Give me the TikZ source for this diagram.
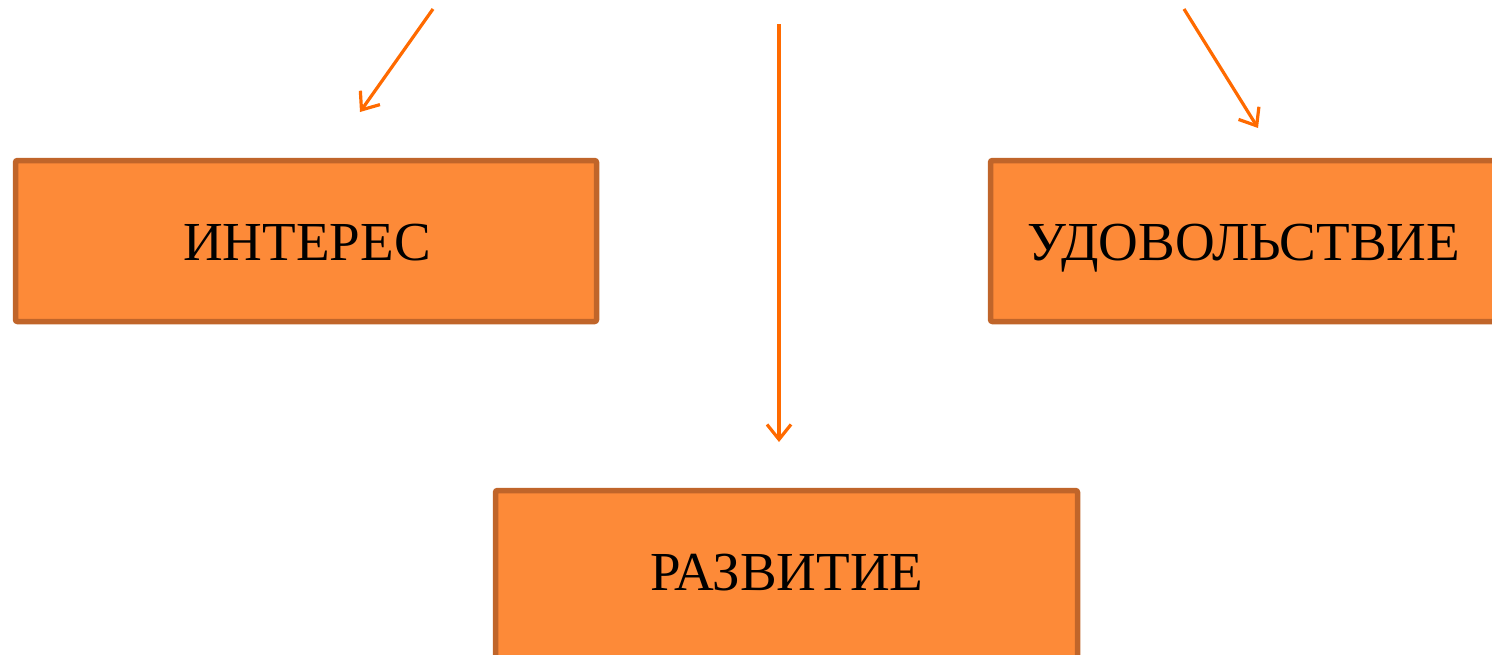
\documentclass[tikz,border=0pt]{standalone}
\usepackage{fontspec}
\setmainfont{Liberation Serif}
\usetikzlibrary{arrows.meta}
\definecolor{boxfill}{HTML}{FD8A38}
\definecolor{boxline}{HTML}{C0652A}
\definecolor{arrowcol}{HTML}{FF6A00}
\tikzset{
  orangebox/.style={draw=boxline, fill=boxfill, line width=5.5pt, rounded corners=2pt},
  boxlabel/.style={font=\fontsize{55}{66}\selectfont, text=black, anchor=base, inner sep=0pt},
  link/.style={draw=arrowcol, line width=3.2pt, -{Straight Barb[length=15pt,width=24pt,line width=3.2pt]}}
}
\begin{document}
\begin{tikzpicture}[x=1pt,y=-1pt]
\useasboundingbox (0,0) rectangle (1492,654);
\clip (0,0) rectangle (1492,654);
% boxes
\draw[orangebox] (15.5,160.5) rectangle (596.5,321.5);
\draw[orangebox] (990.5,160.5) rectangle (1560,321.5);
\draw[orangebox] (495.5,490.5) rectangle (1077.5,700);
% labels
\node[boxlabel] (interes) at (307,260) {ИНТЕРЕС};
\node[boxlabel] (udov) at (1244,260) {УДОВОЛЬСТВИЕ};
\node[boxlabel] (razv) at (787,590) {РАЗВИТИЕ};
% arrow ends
\coordinate (s1) at (433,9);
\coordinate (t1) at (360,112);
\coordinate (s2) at (779,24);
\coordinate (t2) at (779,442);
\coordinate (s3) at (1184,9);
\coordinate (t3) at (1258,128);
\draw[link] (s1) -- (t1);
\draw[link] (s2) -- (t2);
\draw[link] (s3) -- (t3);
\end{tikzpicture}
\end{document}
